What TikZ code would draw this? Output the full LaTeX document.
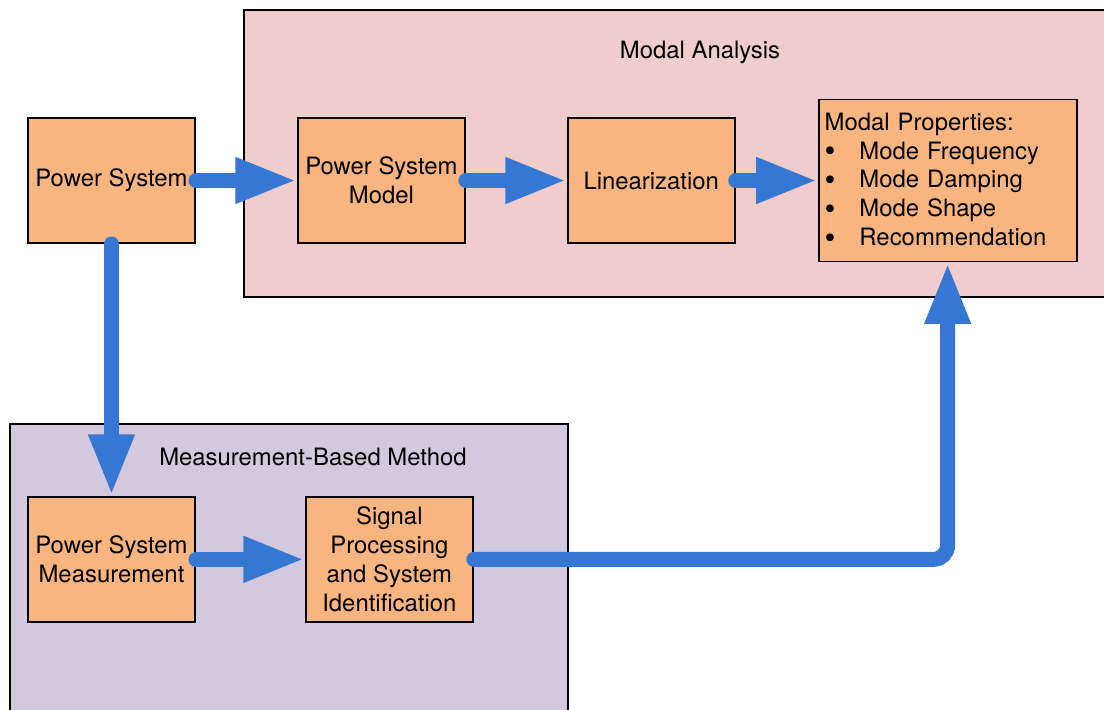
\documentclass[tikz,border=0pt]{standalone}
\usepackage{fontspec}
\setmainfont{TeX Gyre Heros}
\usepackage{xcolor}
\usetikzlibrary{positioning}
\usetikzlibrary{arrows.meta}

\definecolor{boxorange}{HTML}{F8B580}
\definecolor{modalpink}{HTML}{EFCDCD}
\definecolor{measpurple}{HTML}{D3C9DF}
\definecolor{flowblue}{HTML}{3577D2}

\newcommand{\propitem}{\makebox[19.8pt][l]{\raisebox{-0.22ex}{\scalebox{1.3}{\textbullet}}}}

\tikzset{
  block/.style={rectangle, draw=black, line width=1.1pt, fill=boxorange,
    minimum width=3.34cm, minimum height=2.5cm, align=center, inner sep=3pt},
  frame/.style={draw=black, line width=1.1pt},
  flow/.style={draw=flowblue, line width=8.5pt, line cap=round,
    -{Triangle[length=35pt,width=24pt]}, rounded corners=8pt},
  every node/.style={font=\fontsize{13.6}{16.4}\selectfont}
}

\begin{document}
\begin{tikzpicture}[x=0.02cm, y=-0.02cm]

    \useasboundingbox (0,0) rectangle (1104,709);

    % Background frames
    \fill[modalpink] (244,10) rectangle (1115,297);
    \draw[frame] (1115,10) -- (244,10) -- (244,297) -- (1115,297);
    \fill[measpurple] (10,424) rectangle (568,720);
    \draw[frame] (10,720) -- (10,424) -- (568,424) -- (568,720);
    \node (modaltitle) at (700,52) {Modal Analysis};
    \node (meastitle) at (313,457) {Measurement-Based Method};

    % Define nodes
    \node[block] (ps) at (111.5,180.5) {Power System};
    \node[block, right=2.02cm of ps] (model) {Power System\\Model};
    \node[block, right=2.02cm of model] (lin) {Linearization};
    \node[block, right=1.64cm of lin, minimum width=5.16cm, minimum height=3.24cm,
      text width=4.92cm, align=left] (props)
      {Modal Properties:\\
       \propitem Mode Frequency\\
       \propitem Mode Damping\\
       \propitem Mode Shape\\
       \propitem Recommendation};
    \node[block, below=5.04cm of ps] (meas) {Power System\\Measurement};
    \node[block, right=2.18cm of meas] (sigproc) {Signal\\Processing\\and System\\Identification};

    % Connect the nodes
    \draw[flow] (ps) -- (model);
    \draw[flow] (model) -- (lin);
    \draw[flow] (lin) -- (props);
    \draw[flow] (ps) -- (meas);
    \draw[flow] (meas) -- (sigproc);
    \draw[flow] (sigproc.east) -| (props.south);

  \end{tikzpicture}
\end{document}
